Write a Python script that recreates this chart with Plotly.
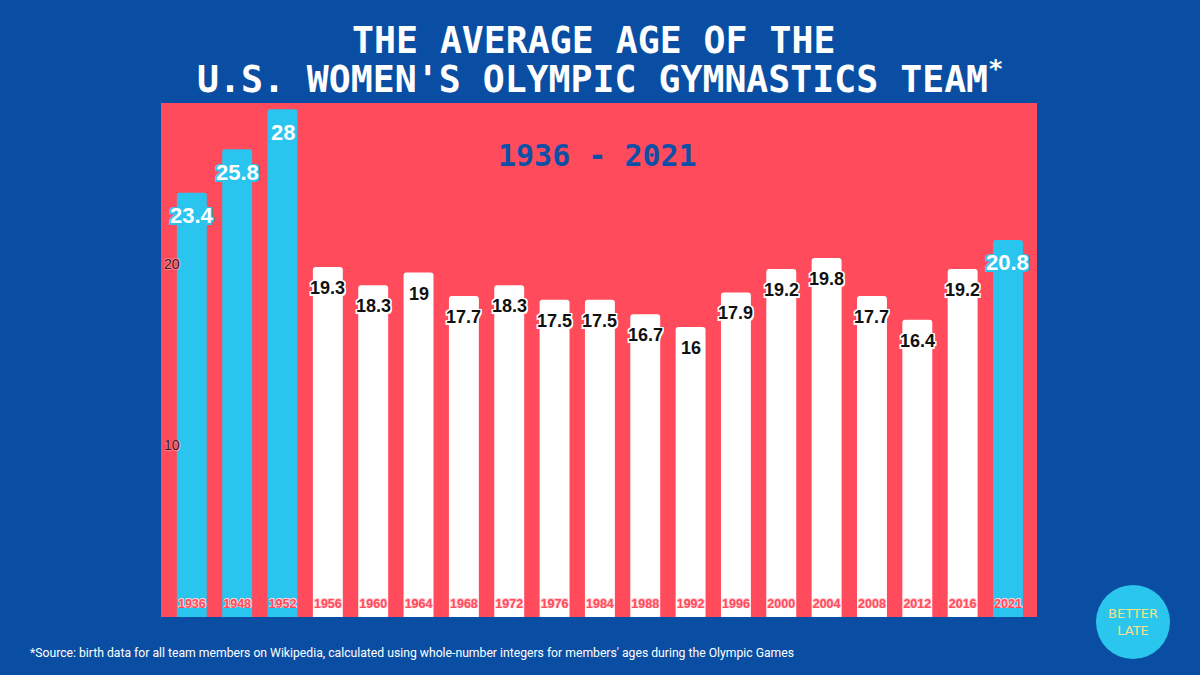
import plotly.graph_objects as go

years = ["1936", "1948", "1952", "1956", "1960", "1964", "1968", "1972", "1976", "1984",
         "1988", "1992", "1996", "2000", "2004", "2008", "2012", "2016", "2021"]
avg_age = [23.4, 25.8, 28, 19.3, 18.3, 19, 17.7, 18.3, 17.5, 17.5,
           16.7, 16, 17.9, 19.2, 19.8, 17.7, 16.4, 19.2, 20.8]
y_ticks = [10, 20]
highlight_threshold = 20

BLUE = "#0A4EA3"
RED = "#FF4B5C"
CYAN = "#2AC5EE"
WHITE = "#FFFFFF"

W, H = 1200, 675
L, R, T, B = 161, 163, 103, 58
PW, PH = W - L - R, H - T - B


def px(x):
    return (x - L) / PW


def py(y):
    return (H - B - y) / PH


def halo(c, w=1.5):
    parts = []
    for dx in (-w, 0, w):
        for dy in (-w, 0, w):
            if dx or dy:
                parts.append(f"{dx}px {dy}px 0 {c}")
    return ", ".join(parts)


colors = [CYAN if v >= highlight_threshold else WHITE for v in avg_age]

fig = go.Figure(go.Bar(
    x=years, y=avg_age, marker=dict(color=colors, line=dict(width=0), cornerradius=3),
    hoverinfo="x+y",
))

annotations = []
for i, (v, c) in enumerate(zip(avg_age, colors)):
    hi = c == CYAN
    annotations.append(dict(
        x=i, y=v, xref="x", yref="y", text=f"{v:g}", showarrow=False,
        yanchor="middle", yshift=-23 if hi else -21,
        font=dict(family="Liberation Sans, Arial, sans-serif", size=22 if hi else 18,
                  color=WHITE if hi else "#111111",
                  weight="bold", shadow=halo(CYAN if hi else WHITE)),
    ))

# titles
annotations.append(dict(
    x=px(593), y=py(41), xref="paper", yref="paper", showarrow=False,
    text="THE AVERAGE AGE OF THE", xanchor="center", yanchor="middle",
    font=dict(family="DejaVu Sans Mono", size=36.5, color=WHITE, weight="bold"),
))
annotations.append(dict(
    x=px(600), y=py(77), xref="paper", yref="paper", showarrow=False,
    text="U.S. WOMEN'S OLYMPIC GYMNASTICS TEAM<sup>*</sup>", xanchor="center", yanchor="middle",
    font=dict(family="DejaVu Sans Mono", size=36.5, color=WHITE, weight="bold"),
))
annotations.append(dict(
    x=px(597), y=py(155), xref="paper", yref="paper", showarrow=False,
    text="1936 - 2021", xanchor="center", yanchor="middle",
    font=dict(family="DejaVu Sans Mono", size=30, color="#0E4FA8", weight="bold"),
))
annotations.append(dict(
    x=px(28), y=py(653), xref="paper", yref="paper", showarrow=False,
    text="*Source: birth data for all team members on Wikipedia, calculated using whole-number integers for members' ages during the Olympic Games",
    xanchor="left", yanchor="middle",
    font=dict(family="Roboto, Arial, sans-serif", size=12.2, color=WHITE),
))
annotations.append(dict(
    x=px(1133), y=py(622), xref="paper", yref="paper", showarrow=False,
    text="BETTER<br>LATE", xanchor="center", yanchor="middle", align="center",
    font=dict(family="DejaVu Sans", size=13, color="#F2E28A"),
))

shapes = [dict(
    type="circle", xref="paper", yref="paper",
    x0=px(1133 - 37), x1=px(1133 + 37), y0=py(622 + 37), y1=py(622 - 37),
    fillcolor="#2BC6EE", line=dict(width=0), layer="below",
)]

fig.update_layout(
    width=W, height=H,
    margin=dict(l=L, r=R, t=T, b=B, pad=0),
    paper_bgcolor=BLUE, plot_bgcolor=RED,
    bargap=0.34, showlegend=False,
    annotations=annotations, shapes=shapes,
    xaxis=dict(
        type="category", range=[-0.68, 18.64], showgrid=False, showline=False,
        zeroline=False, ticks="", ticklabelposition="inside", ticklabelstandoff=4,
        tickfont=dict(family="Liberation Sans, Arial, sans-serif", size=12.5, color=RED,
                      weight="bold", shadow=halo("#FFD0D5", 0.6)),
    ),
    yaxis=dict(
        range=[0, 28.35], tickvals=y_ticks, showgrid=False, showline=False,
        zeroline=False, ticks="", ticklabelposition="inside bottom",
        tickfont=dict(family="Liberation Sans, Arial, sans-serif", size=14, color="#3A1F28",
                      shadow=halo("#FF7A86", 0.6)),
    ),
)

fig.write_html("out.html")
